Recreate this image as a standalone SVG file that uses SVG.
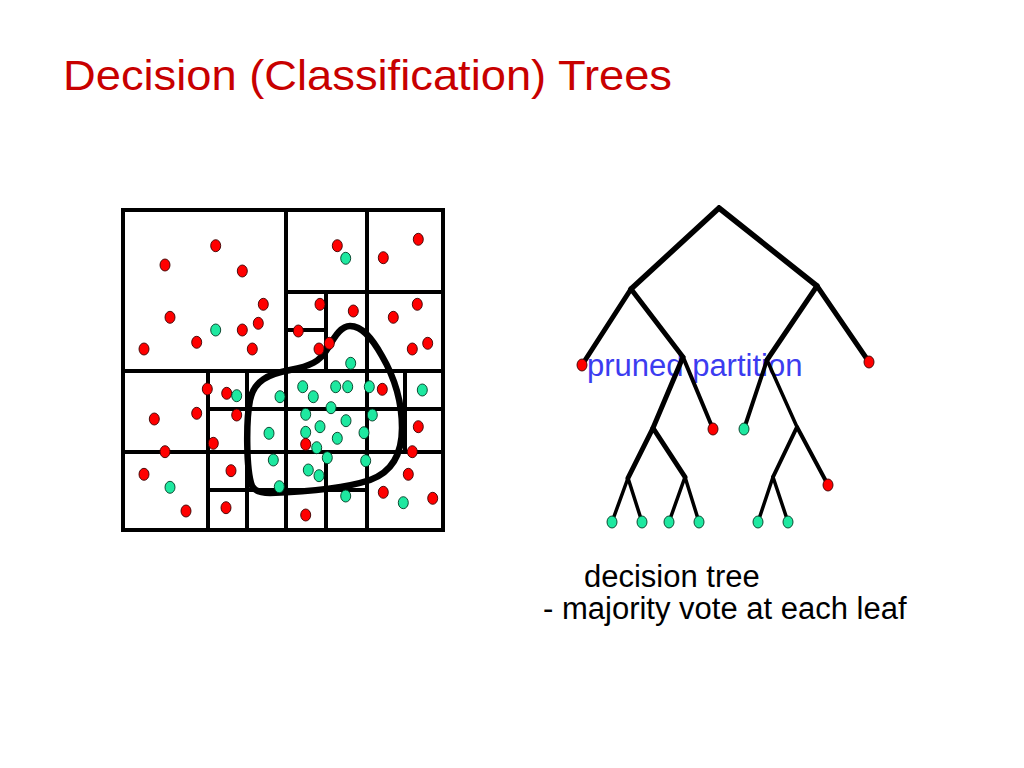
<svg xmlns="http://www.w3.org/2000/svg" width="1024" height="768" viewBox="0 0 1024 768">
<defs>
<style>
.grid{stroke:#000;stroke-width:4;fill:none;stroke-linecap:square}
.blob{stroke:#000;stroke-width:6.5;fill:none}
.r{fill:#FF0000;stroke:#3a0000;stroke-width:0.9}
.g{fill:#1EE8A0;stroke:#003a22;stroke-width:0.9}
.br{stroke:#000;fill:none;stroke-linecap:round}
.title{font-family:"Liberation Sans",Arial,sans-serif;font-size:43px;fill:#C80000}
.lbl{font-family:"Liberation Sans",Arial,sans-serif;font-size:31px;fill:#000}
.blue{font-family:"Liberation Sans",Arial,sans-serif;font-size:31px;fill:#3C3CF0}
</style>
</defs>
<rect width="1024" height="768" fill="#fff"/>
<text class="title" x="63" y="90" textLength="609" lengthAdjust="spacingAndGlyphs">Decision (Classification) Trees</text>

<g id="partition">
<rect class="grid" x="123" y="210" width="320" height="320"/>
<path class="grid" d="M286,210V530 M367,210V530 M286,292H443 M326,292V371 M286,330H326 M123,371H443 M208,371V530 M247,371V530 M208,409H443 M405,371V452 M123,452H443 M208,490H367 M326,452V530"/>
</g>

<g id="boundary">
<path class="blob" d="M252,486 C246,470 246,420 250,400 C254,381 268,374 290,370 C310,366 320,362 328,348 C336,334 342,326 350,326 C362,326 372,338 382,356 C396,380 402,405 402,428 C402,455 392,472 370,480 C340,490 300,492 270,493 C260,493 254,490 252,486 Z"/>
</g>

<g id="points">
<ellipse class="r" cx="215.7" cy="245.7" rx="5" ry="6"/>
<ellipse class="r" cx="165" cy="265" rx="5" ry="6"/>
<ellipse class="r" cx="242.3" cy="271" rx="5" ry="6"/>
<ellipse class="r" cx="263.3" cy="304.3" rx="5" ry="6"/>
<ellipse class="r" cx="170" cy="317.3" rx="5" ry="6"/>
<ellipse class="g" cx="215.7" cy="330" rx="5" ry="6"/>
<ellipse class="r" cx="242.3" cy="330" rx="5" ry="6"/>
<ellipse class="r" cx="258.3" cy="323.3" rx="5" ry="6"/>
<ellipse class="r" cx="196.7" cy="342.3" rx="5" ry="6"/>
<ellipse class="r" cx="144" cy="349" rx="5" ry="6"/>
<ellipse class="r" cx="252.3" cy="349" rx="5" ry="6"/>
<ellipse class="r" cx="337.3" cy="245.7" rx="5" ry="6"/>
<ellipse class="g" cx="345.7" cy="258.3" rx="5" ry="6"/>
<ellipse class="r" cx="383.3" cy="257.7" rx="5" ry="6"/>
<ellipse class="r" cx="418.3" cy="239.3" rx="5" ry="6"/>
<ellipse class="r" cx="320" cy="304.3" rx="5" ry="6"/>
<ellipse class="r" cx="353.3" cy="311" rx="5" ry="6"/>
<ellipse class="r" cx="298.3" cy="331" rx="5" ry="6"/>
<ellipse class="r" cx="319" cy="349" rx="5" ry="6"/>
<ellipse class="r" cx="329.3" cy="343.3" rx="5" ry="6"/>
<ellipse class="g" cx="350.7" cy="363.3" rx="5" ry="6"/>
<ellipse class="r" cx="393.3" cy="317.3" rx="5" ry="6"/>
<ellipse class="r" cx="417.3" cy="304.3" rx="5" ry="6"/>
<ellipse class="r" cx="412.3" cy="349" rx="5" ry="6"/>
<ellipse class="r" cx="427.7" cy="343.3" rx="5" ry="6"/>
<ellipse class="r" cx="207.3" cy="389" rx="5" ry="6"/>
<ellipse class="r" cx="226.7" cy="393.3" rx="5" ry="6"/>
<ellipse class="g" cx="236.7" cy="395.7" rx="5" ry="6"/>
<ellipse class="r" cx="196.7" cy="413.3" rx="5" ry="6"/>
<ellipse class="r" cx="154.3" cy="419" rx="5" ry="6"/>
<ellipse class="r" cx="236.7" cy="415" rx="5" ry="6"/>
<ellipse class="r" cx="213.3" cy="443.3" rx="5" ry="6"/>
<ellipse class="r" cx="165" cy="451.7" rx="5" ry="6"/>
<ellipse class="g" cx="280" cy="396.7" rx="5" ry="6"/>
<ellipse class="g" cx="269" cy="433.3" rx="5" ry="6"/>
<ellipse class="g" cx="302.7" cy="386.7" rx="5" ry="6"/>
<ellipse class="g" cx="313.3" cy="396.7" rx="5" ry="6"/>
<ellipse class="g" cx="335.7" cy="386.7" rx="5" ry="6"/>
<ellipse class="g" cx="347.7" cy="386.7" rx="5" ry="6"/>
<ellipse class="g" cx="369.3" cy="386.7" rx="5" ry="6"/>
<ellipse class="r" cx="382.3" cy="389.3" rx="5" ry="6"/>
<ellipse class="g" cx="422.3" cy="390" rx="5" ry="6"/>
<ellipse class="g" cx="331" cy="407.7" rx="5" ry="6"/>
<ellipse class="g" cx="305.7" cy="414.3" rx="5" ry="6"/>
<ellipse class="g" cx="346" cy="420.7" rx="5" ry="6"/>
<ellipse class="g" cx="372.3" cy="415" rx="5" ry="6"/>
<ellipse class="g" cx="320" cy="426.7" rx="5" ry="6"/>
<ellipse class="g" cx="305.7" cy="432.3" rx="5" ry="6"/>
<ellipse class="g" cx="337.3" cy="438.3" rx="5" ry="6"/>
<ellipse class="g" cx="364" cy="432.7" rx="5" ry="6"/>
<ellipse class="r" cx="418.3" cy="426.7" rx="5" ry="6"/>
<ellipse class="r" cx="305.7" cy="444.3" rx="5" ry="6"/>
<ellipse class="g" cx="316.7" cy="447.7" rx="5" ry="6"/>
<ellipse class="r" cx="412.3" cy="451.7" rx="5" ry="6"/>
<ellipse class="g" cx="327.3" cy="457.7" rx="5" ry="6"/>
<ellipse class="g" cx="273.3" cy="460" rx="5" ry="6"/>
<ellipse class="g" cx="365.7" cy="460.7" rx="5" ry="6"/>
<ellipse class="g" cx="308.3" cy="470" rx="5" ry="6"/>
<ellipse class="g" cx="319" cy="475.7" rx="5" ry="6"/>
<ellipse class="r" cx="231" cy="470.7" rx="5" ry="6"/>
<ellipse class="r" cx="144" cy="474.3" rx="5" ry="6"/>
<ellipse class="g" cx="170" cy="487.3" rx="5" ry="6"/>
<ellipse class="r" cx="408.3" cy="474.3" rx="5" ry="6"/>
<ellipse class="r" cx="383.3" cy="492.3" rx="5" ry="6"/>
<ellipse class="g" cx="403.3" cy="502.7" rx="5" ry="6"/>
<ellipse class="r" cx="432.7" cy="498.3" rx="5" ry="6"/>
<ellipse class="g" cx="279.3" cy="486.7" rx="5" ry="6"/>
<ellipse class="g" cx="345.7" cy="496" rx="5" ry="6"/>
<ellipse class="r" cx="186" cy="511" rx="5" ry="6"/>
<ellipse class="r" cx="226" cy="507.7" rx="5" ry="6"/>
<ellipse class="r" cx="305.7" cy="515" rx="5" ry="6"/>
</g>

<text class="blue" x="587" y="376">pruned partition</text>

<g id="connectors">
<path class="br" stroke-width="5.5" d="M719,208 L631,289 M719,208 L817,286"/>
<path class="br" stroke-width="5" d="M631,289 L582,365 M631,289 L683,357 L653,428 M817,286 L869,362 M817,286 L767,360"/>
<path class="br" stroke-width="4" d="M683,357 L713,429 M767,360 L744,429 M797,427 L828,485 M797,427 L773,477"/>
<path class="br" stroke-width="3.5" d="M767,360 L797,427"/>
<path class="br" stroke-width="5" d="M653,428 L628,478 M653,428 L685,477"/>
<path class="br" stroke-width="3.5" d="M628,478 L612,522 M628,478 L642,522 M685,477 L669,522 M685,477 L699,522 M773,477 L758,522 M773,477 L788,522"/>
</g>

<g id="leaf-1"><ellipse class="r" cx="582" cy="365" rx="5" ry="6"/></g>
<g id="leaf-2"><ellipse class="r" cx="869" cy="362" rx="5" ry="6"/></g>
<g id="leaf-3"><ellipse class="r" cx="713" cy="429" rx="5" ry="6"/></g>
<g id="leaf-4"><ellipse class="g" cx="744" cy="429" rx="5" ry="6"/></g>
<g id="leaf-5"><ellipse class="r" cx="828" cy="485" rx="5" ry="6"/></g>
<g id="leaf-6"><ellipse class="g" cx="612" cy="522" rx="5" ry="6"/></g>
<g id="leaf-7"><ellipse class="g" cx="642" cy="522" rx="5" ry="6"/></g>
<g id="leaf-8"><ellipse class="g" cx="669" cy="522" rx="5" ry="6"/></g>
<g id="leaf-9"><ellipse class="g" cx="699" cy="522" rx="5" ry="6"/></g>
<g id="leaf-10"><ellipse class="g" cx="758" cy="522" rx="5" ry="6"/></g>
<g id="leaf-11"><ellipse class="g" cx="788" cy="522" rx="5" ry="6"/></g>

<text class="lbl" x="584" y="587">decision tree</text>
<text class="lbl" x="543" y="619">- majority vote at each leaf</text>
</svg>
